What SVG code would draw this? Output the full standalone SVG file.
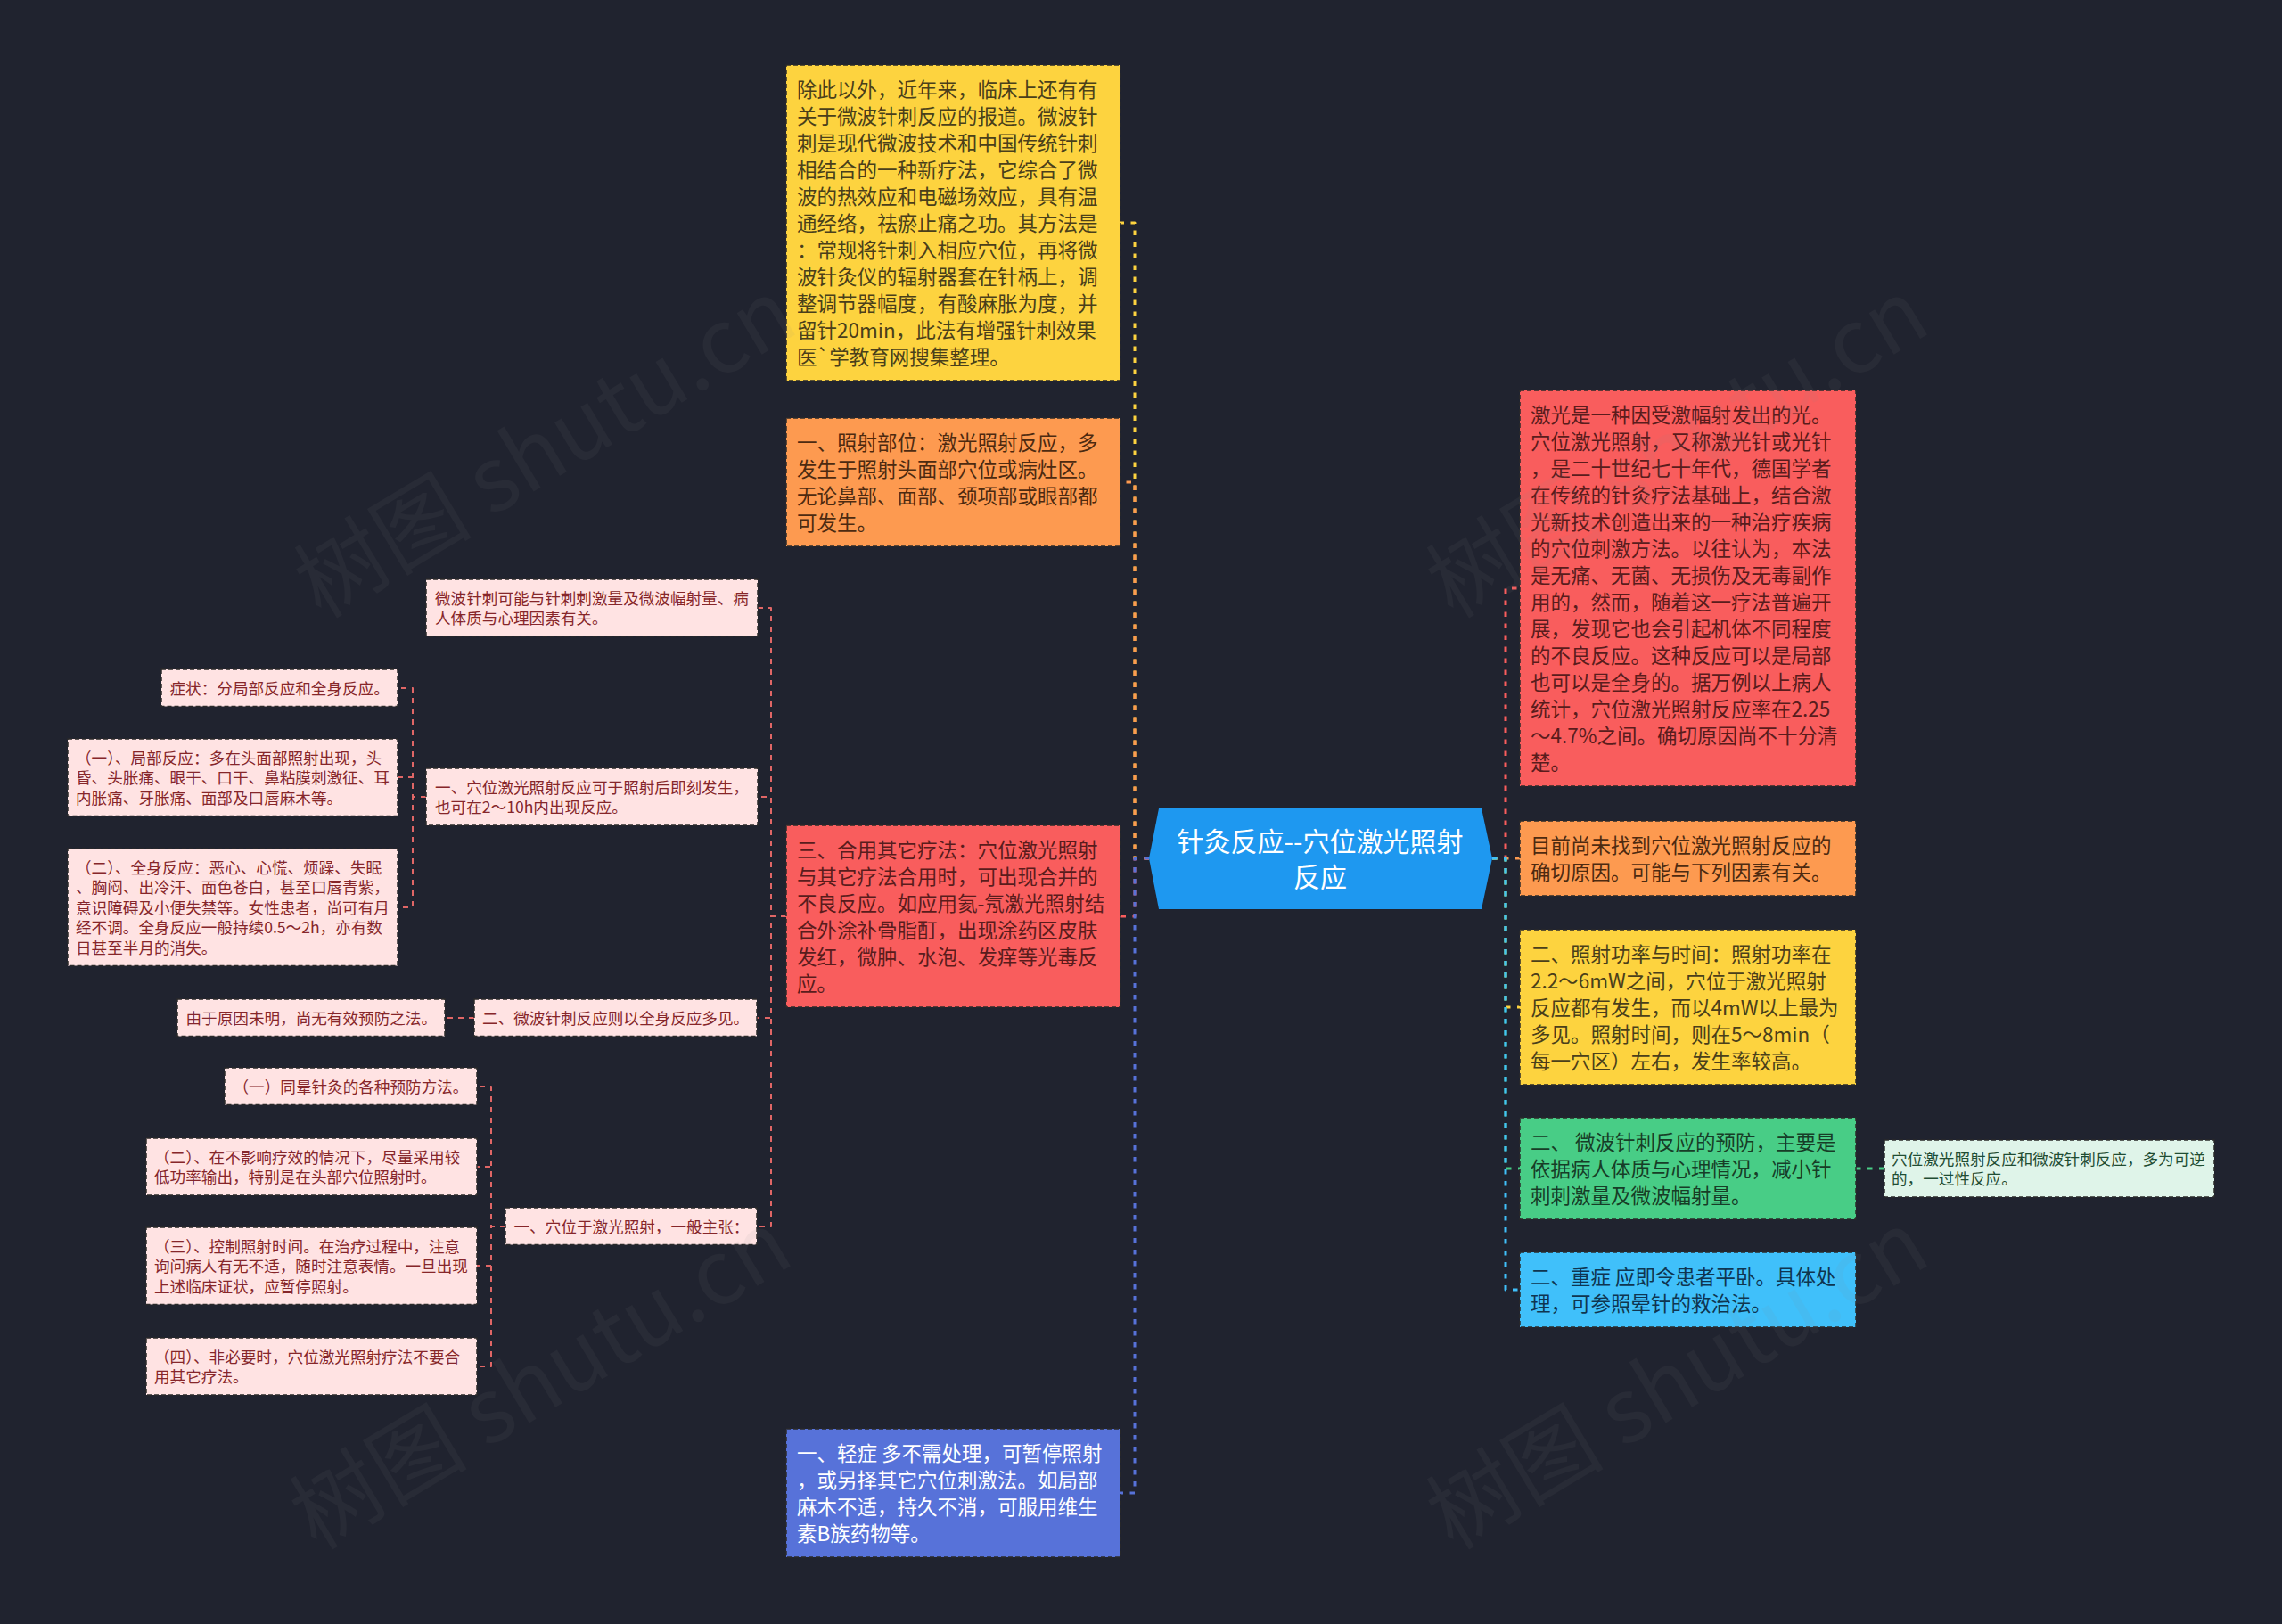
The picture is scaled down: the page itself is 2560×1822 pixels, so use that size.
<svg xmlns="http://www.w3.org/2000/svg" width="2560" height="1822" viewBox="0 0 2560 1822">
<style>
text{font-family:"Noto Sans CJK SC","Microsoft YaHei",sans-serif;}
.box{stroke:#2a2a2a;stroke-width:1.5;stroke-dasharray:5 3;}
.m{font-size:22.5px;}
.s{font-size:17.6px;}
.c{fill:none;stroke-width:3;stroke-dasharray:5.5 7.5;stroke-linejoin:round;}
.p{fill:none;stroke:#e06666;stroke-width:2;stroke-dasharray:6 6;stroke-linejoin:round;}
.pk{fill:#ffe3e3;}
.pt{fill:#86262a;}
.wm{font-size:100px;fill:#8a8a8a;opacity:0.075;}
</style>
<rect x="0" y="0" width="2560" height="1822" fill="#20232f"/>

<g id="connectors">
<path class="c" stroke="#fdd33f" d="M1289,963 H1273 V250 H1257"/>
<path class="c" stroke="#fd9a50" d="M1289,963 H1273 V541 H1257"/>
<path class="c" stroke="#f95d5d" d="M1289,963 H1273 V1028 H1257"/>
<path class="c" stroke="#5772d9" d="M1289,963 H1273 V1675 H1257"/>
<path class="c" stroke="#f95d5d" d="M1674,963 H1689 V660 H1705"/>
<path class="c" stroke="#fd9a50" d="M1674,963 H1705"/>
<path class="c" stroke="#fdd33f" d="M1674,963 H1689 V1130 H1705"/>
<path class="c" stroke="#48cd86" d="M1674,963 H1689 V1311 H1705"/>
<path class="c" stroke="#40c0fa" d="M1674,963 H1689 V1447 H1705"/>
<path class="c" stroke="#48cd86" d="M2082,1311 H2114"/>
<path class="p" d="M882,1028 H865 V682 H850"/>
<path class="p" d="M882,1028 H865 V894 H850"/>
<path class="p" d="M882,1028 H865 V1142 H849"/>
<path class="p" d="M882,1028 H865 V1376 H849"/>
<path class="p" d="M478,894 H463 V772 H446"/>
<path class="p" d="M478,894 H463 V872 H446"/>
<path class="p" d="M478,894 H463 V1018 H446"/>
<path class="p" d="M532,1142 H499"/>
<path class="p" d="M567,1376 H551 V1219 H535"/>
<path class="p" d="M567,1376 H551 V1309 H535"/>
<path class="p" d="M567,1376 H551 V1420 H535"/>
<path class="p" d="M567,1376 H551 V1533 H535"/>
</g>

<g id="root">
<polygon points="1300,907 1662,907 1674,963 1662,1020 1300,1020 1289,963" fill="#1e98f0"/>
<text x="1481" y="955" font-size="30" fill="#ffffff" text-anchor="middle">针灸反应--穴位激光照射</text>
<text x="1481" y="995" font-size="30" fill="#ffffff" text-anchor="middle">反应</text>
</g>

<g id="n-weibo">
<rect class="box" x="882" y="73" width="375" height="354" fill="#fdd33f"/>
<text class="m" fill="#4a3f1a">
<tspan x="894" y="108.5">除此以外，近年来，临床上还有有</tspan>
<tspan x="894" y="138.5">关于微波针刺反应的报道。微波针</tspan>
<tspan x="894" y="168.5">刺是现代微波技术和中国传统针刺</tspan>
<tspan x="894" y="198.5">相结合的一种新疗法，它综合了微</tspan>
<tspan x="894" y="228.5">波的热效应和电磁场效应，具有温</tspan>
<tspan x="894" y="258.5">通经络，祛瘀止痛之功。其方法是</tspan>
<tspan x="894" y="288.5">：常规将针刺入相应穴位，再将微</tspan>
<tspan x="894" y="318.5">波针灸仪的辐射器套在针柄上，调</tspan>
<tspan x="894" y="348.5">整调节器幅度，有酸麻胀为度，并</tspan>
<tspan x="894" y="378.5">留针20min，此法有增强针刺效果</tspan>
<tspan x="894" y="408.5">医`学教育网搜集整理。</tspan>
</text>
</g>

<g id="n-buwei">
<rect class="box" x="882" y="469" width="375" height="144" fill="#fd9a50"/>
<text class="m" fill="#4d2a10">
<tspan x="894" y="504.5">一、照射部位：激光照射反应，多</tspan>
<tspan x="894" y="534.5">发生于照射头面部穴位或病灶区。</tspan>
<tspan x="894" y="564.5">无论鼻部、面部、颈项部或眼部都</tspan>
<tspan x="894" y="594.5">可发生。</tspan>
</text>
</g>

<g id="n-heyong">
<rect class="box" x="882" y="926" width="375" height="204" fill="#f95d5d"/>
<text class="m" fill="#5a1c1c">
<tspan x="894" y="961.5">三、合用其它疗法：穴位激光照射</tspan>
<tspan x="894" y="991.5">与其它疗法合用时，可出现合并的</tspan>
<tspan x="894" y="1021.5">不良反应。如应用氦-氖激光照射结</tspan>
<tspan x="894" y="1051.5">合外涂补骨脂酊，出现涂药区皮肤</tspan>
<tspan x="894" y="1081.5">发红，微肿、水泡、发痒等光毒反</tspan>
<tspan x="894" y="1111.5">应。</tspan>
</text>
</g>

<g id="n-qingzheng">
<rect class="box" x="882" y="1603" width="375" height="144" fill="#5772d9"/>
<text class="m" fill="#ffffff">
<tspan x="894" y="1638.5">一、轻症 多不需处理，可暂停照射</tspan>
<tspan x="894" y="1668.5">，或另择其它穴位刺激法。如局部</tspan>
<tspan x="894" y="1698.5">麻木不适，持久不消，可服用维生</tspan>
<tspan x="894" y="1728.5">素B族药物等。</tspan>
</text>
</g>

<g id="n-jiguang">
<rect class="box" x="1705" y="438" width="377" height="444" fill="#f95d5d"/>
<text class="m" fill="#5a1c1c">
<tspan x="1717" y="473.5">激光是一种因受激幅射发出的光。</tspan>
<tspan x="1717" y="503.5">穴位激光照射，又称激光针或光针</tspan>
<tspan x="1717" y="533.5">，是二十世纪七十年代，德国学者</tspan>
<tspan x="1717" y="563.5">在传统的针灸疗法基础上，结合激</tspan>
<tspan x="1717" y="593.5">光新技术创造出来的一种治疗疾病</tspan>
<tspan x="1717" y="623.5">的穴位刺激方法。以往认为，本法</tspan>
<tspan x="1717" y="653.5">是无痛、无菌、无损伤及无毒副作</tspan>
<tspan x="1717" y="683.5">用的，然而，随着这一疗法普遍开</tspan>
<tspan x="1717" y="713.5">展，发现它也会引起机体不同程度</tspan>
<tspan x="1717" y="743.5">的不良反应。这种反应可以是局部</tspan>
<tspan x="1717" y="773.5">也可以是全身的。据万例以上病人</tspan>
<tspan x="1717" y="803.5">统计，穴位激光照射反应率在2.25</tspan>
<tspan x="1717" y="833.5">～4.7%之间。确切原因尚不十分清</tspan>
<tspan x="1717" y="863.5">楚。</tspan>
</text>
</g>

<g id="n-yuanyin">
<rect class="box" x="1705" y="921" width="377" height="84" fill="#fd9a50"/>
<text class="m" fill="#4d2a10">
<tspan x="1717" y="956.5">目前尚未找到穴位激光照射反应的</tspan>
<tspan x="1717" y="986.5">确切原因。可能与下列因素有关。</tspan>
</text>
</g>

<g id="n-gonglv">
<rect class="box" x="1705" y="1043" width="377" height="174" fill="#fdd33f"/>
<text class="m" fill="#4a3f1a">
<tspan x="1717" y="1078.5">二、照射功率与时间：照射功率在</tspan>
<tspan x="1717" y="1108.5">2.2～6mW之间，穴位于激光照射</tspan>
<tspan x="1717" y="1138.5">反应都有发生，而以4mW以上最为</tspan>
<tspan x="1717" y="1168.5">多见。照射时间，则在5～8min（</tspan>
<tspan x="1717" y="1198.5">每一穴区）左右，发生率较高。</tspan>
</text>
</g>

<g id="n-yufang">
<rect class="box" x="1705" y="1254" width="377" height="114" fill="#48cd86"/>
<text class="m" fill="#173d27">
<tspan x="1717" y="1289.5">二、 微波针刺反应的预防，主要是</tspan>
<tspan x="1717" y="1319.5">依据病人体质与心理情况，减小针</tspan>
<tspan x="1717" y="1349.5">刺刺激量及微波幅射量。</tspan>
</text>
</g>

<g id="n-kenizhi">
<rect class="box" x="2114" y="1279" width="370" height="64" fill="#dff4e9"/>
<text class="s" fill="#1f4d33">
<tspan x="2122" y="1306.5">穴位激光照射反应和微波针刺反应，多为可逆</tspan>
<tspan x="2122" y="1329">的，一过性反应。</tspan>
</text>
</g>

<g id="n-zhongzheng">
<rect class="box" x="1705" y="1405" width="377" height="84" fill="#40c0fa"/>
<text class="m" fill="#0f3550">
<tspan x="1717" y="1440.5">二、重症 应即令患者平卧。具体处</tspan>
<tspan x="1717" y="1470.5">理，可参照晕针的救治法。</tspan>
</text>
</g>

<g id="n-p1">
<rect class="box pk" x="478" y="650" width="372" height="64"/>
<text class="s pt">
<tspan x="488" y="677.5">微波针刺可能与针刺刺激量及微波幅射量、病</tspan>
<tspan x="488" y="700">人体质与心理因素有关。</tspan>
</text>
</g>

<g id="n-p2">
<rect class="box pk" x="478" y="862" width="372" height="64"/>
<text class="s pt">
<tspan x="488" y="889.5">一、穴位激光照射反应可于照射后即刻发生，</tspan>
<tspan x="488" y="912">也可在2～10h内出现反应。</tspan>
</text>
</g>

<g id="n-s1">
<rect class="box pk" x="181" y="751" width="265" height="41.5"/>
<text class="s pt"><tspan x="190.5" y="778.5">症状：分局部反应和全身反应。</tspan></text>
</g>

<g id="n-s2">
<rect class="box pk" x="76" y="829" width="370" height="86.5"/>
<text class="s pt">
<tspan x="85" y="856.5">（一）、局部反应：多在头面部照射出现，头</tspan>
<tspan x="85" y="879">昏、头胀痛、眼干、口干、鼻粘膜刺激征、耳</tspan>
<tspan x="85" y="901.5">内胀痛、牙胀痛、面部及口唇麻木等。</tspan>
</text>
</g>

<g id="n-s3">
<rect class="box pk" x="76" y="952" width="370" height="131.5"/>
<text class="s pt">
<tspan x="85" y="979.5">（二）、全身反应：恶心、心慌、烦躁、失眠</tspan>
<tspan x="85" y="1002">、胸闷、出冷汗、面色苍白，甚至口唇青紫，</tspan>
<tspan x="85" y="1024.5">意识障碍及小便失禁等。女性患者，尚可有月</tspan>
<tspan x="85" y="1047">经不调。全身反应一般持续0.5～2h，亦有数</tspan>
<tspan x="85" y="1069.5">日甚至半月的消失。</tspan>
</text>
</g>

<g id="n-p3">
<rect class="box pk" x="532" y="1121" width="317" height="41.5"/>
<text class="s pt"><tspan x="541" y="1148.5">二、微波针刺反应则以全身反应多见。</tspan></text>
</g>

<g id="n-s4">
<rect class="box pk" x="199" y="1121" width="300" height="41.5"/>
<text class="s pt"><tspan x="208.5" y="1148.5">由于原因未明，尚无有效预防之法。</tspan></text>
</g>

<g id="n-p4">
<rect class="box pk" x="567" y="1355" width="282" height="41.5"/>
<text class="s pt"><tspan x="576.5" y="1382.5">一、穴位于激光照射，一般主张：</tspan></text>
</g>

<g id="n-t1">
<rect class="box pk" x="252" y="1198" width="283" height="41.5"/>
<text class="s pt"><tspan x="261.5" y="1225.5">（一）同晕针灸的各种预防方法。</tspan></text>
</g>

<g id="n-t2">
<rect class="box pk" x="164" y="1277" width="371" height="64"/>
<text class="s pt">
<tspan x="173" y="1304.5">（二）、在不影响疗效的情况下，尽量采用较</tspan>
<tspan x="173" y="1327">低功率输出，特别是在头部穴位照射时。</tspan>
</text>
</g>

<g id="n-t3">
<rect class="box pk" x="164" y="1377" width="371" height="86.5"/>
<text class="s pt">
<tspan x="173" y="1404.5">（三）、控制照射时间。在治疗过程中，注意</tspan>
<tspan x="173" y="1427">询问病人有无不适，随时注意表情。一旦出现</tspan>
<tspan x="173" y="1449.5">上述临床证状，应暂停照射。</tspan>
</text>
</g>

<g id="n-t4">
<rect class="box pk" x="164" y="1501" width="371" height="64"/>
<text class="s pt">
<tspan x="173" y="1528.5">（四）、非必要时，穴位激光照射疗法不要合</tspan>
<tspan x="173" y="1551">用其它疗法。</tspan>
</text>
</g>

<g id="watermarks">
<text class="wm" transform="translate(360,695) rotate(-31)">树图 shutu.cn</text>
<text class="wm" transform="translate(1630,695) rotate(-31)">树图 shutu.cn</text>
<text class="wm" transform="translate(355,1740) rotate(-31)">树图 shutu.cn</text>
<text class="wm" transform="translate(1630,1740) rotate(-31)">树图 shutu.cn</text>
</g>
</svg>
